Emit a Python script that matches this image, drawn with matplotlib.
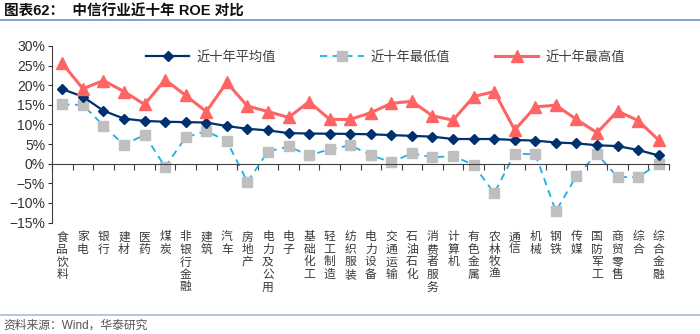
import matplotlib
matplotlib.use("Agg")
import matplotlib.pyplot as plt
import matplotlib.transforms as mtransforms
from matplotlib.lines import Line2D
from matplotlib.ticker import FixedLocator, PercentFormatter, NullFormatter

plt.rcParams["font.family"] = ["Liberation Sans", "Noto Sans CJK SC"]

industries = ["食品饮料", "家电", "银行", "建材", "医药", "煤炭", "非银行金融", "建筑",
              "汽车", "房地产", "电力及公用", "电子", "基础化工", "轻工制造", "纺织服装",
              "电力设备", "交通运输", "石油石化", "消费者服务", "计算机", "有色金属",
              "农林牧渔", "通信", "机械", "钢铁", "传媒", "国防军工", "商贸零售", "综合", "综合金融"]

roe_mean = [19.0, 17.1, 13.5, 11.5, 10.9, 10.7, 10.6, 10.5, 9.6, 8.9, 8.5, 7.8, 7.7, 7.65, 7.6,
            7.5, 7.3, 7.1, 6.9, 6.3, 6.3, 6.3, 6.05, 5.9, 5.4, 5.2, 4.7, 4.5, 3.5, 2.1]
roe_min = [15.1, 15.0, 9.7, 4.8, 7.4, -0.8, 6.7, 8.3, 5.8, -4.6, 3.1, 4.4, 2.1, 3.7, 4.7,
           2.2, 0.35, 2.7, 1.6, 2.0, -0.3, -7.5, 2.6, 2.4, -12.1, -3.1, 2.5, -3.4, -3.4, 0.0]
roe_max = [25.6, 19.1, 21.2, 18.4, 15.1, 21.4, 17.4, 13.3, 20.7, 14.7, 13.3, 11.8, 15.8, 11.3, 11.3,
           13.0, 15.4, 15.9, 12.2, 11.1, 17.1, 18.4, 8.6, 14.5, 14.9, 11.3, 7.9, 13.4, 11.0, 6.0]

x = list(range(len(industries)))

fig = plt.figure(figsize=(7, 3.34), dpi=100)
ax = fig.add_axes([0.0743, 0.3335, 0.8814, 0.5288])

ax.plot(x, roe_mean, color="#00306E", linewidth=1.6, marker="D", markersize=4.8,
        label="近十年平均值", zorder=3)
ax.plot(x, roe_min, color="#1CAEEA", linewidth=1.3, linestyle=(0, (4, 3)), marker="s",
        markersize=6.5, markerfacecolor="#BFBFBF", markeredgecolor="#BFBFBF",
        label="近十年最低值", zorder=2)
ax.plot(x, roe_max, color="#FF6464", linewidth=2.2, marker="^", markersize=8,
        label="近十年最高值", zorder=4)

ax.set_xlim(-0.5, len(industries) - 0.5)
ax.set_ylim(-15, 30)
ax.yaxis.set_major_locator(FixedLocator(range(-15, 31, 5)))
ax.yaxis.set_major_formatter(PercentFormatter(decimals=0))
ax.tick_params(axis="y", labelsize=10, colors="#333333", length=3, width=0.8, pad=2)

# x 轴放在 0 处，刻度线在类别之间
ax.spines["bottom"].set_position(("data", 0))
ax.spines["top"].set_visible(False)
ax.spines["right"].set_visible(False)
ax.spines["bottom"].set_color("#404040")
ax.spines["left"].set_color("#404040")
ax.xaxis.set_major_locator(FixedLocator([i - 0.5 for i in range(len(industries) + 1)]))
ax.xaxis.set_major_formatter(NullFormatter())
ax.tick_params(axis="x", direction="out", length=4, width=0.8, colors="#404040")

trans = mtransforms.blended_transform_factory(ax.transData, fig.transFigure)
for i, name in enumerate(industries):
    ax.text(i, 0.31, "\n".join(name), transform=trans, ha="center", va="top",
            fontsize=8.5, linespacing=0.95, color="#3a3a3a", family=["Noto Sans CJK SC"])

leg = ax.legend(loc="upper center", bbox_to_anchor=(0.54, 1.04), ncol=3, frameon=False,
                handlelength=3.3, columnspacing=3.4, handletextpad=0.5,
                prop={"family": ["Noto Sans CJK SC"], "size": 9.5})
for t in leg.get_texts():
    t.set_color("#404040")

fig.text(0.005, 0.965, "图表62：  中信行业近十年 ROE 对比", fontsize=10.5, fontweight="bold",
         va="center", ha="left", color="#111111")
fig.add_artist(Line2D([0, 1], [0.94, 0.94], color="#6D93C7", linewidth=1.2))
fig.add_artist(Line2D([0, 1], [0.057, 0.057], color="#A7BCD8", linewidth=1.2))
fig.text(0.005, 0.025, "资料来源：Wind，华泰研究", fontsize=8.5, va="center", ha="left",
         color="#555555")

fig.savefig("out.png", dpi=100)
